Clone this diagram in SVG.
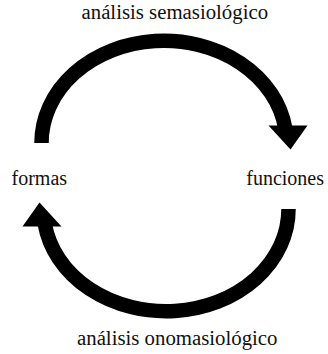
<svg xmlns="http://www.w3.org/2000/svg" width="328" height="354" viewBox="0 0 328 354">
  <style>
    text { font-family: "Liberation Serif", "Times New Roman", serif; font-size: 20px; fill: #111; }
    .label { font-size: 20.8px; }
    .arc { fill: none; stroke: #000; stroke-width: 14.5; }
    .head { fill: #000; stroke: none; }
  </style>
  <defs>
    <g id="arrow">
      <path class="arc" d="M41.5,143 A122.5,102 0 0 1 285.2,128"/>
      <polygon class="head" points="268.5,125.5 307.5,125.5 290.5,149.5"/>
    </g>
  </defs>
  <rect width="328" height="354" fill="#fff"/>
  <g id="connectors">
    <use href="#arrow"/>
    <use href="#arrow" transform="rotate(180 165 176)"/>
    <text class="label" x="81.5" y="18.5">análisis semasiológico</text>
    <text class="label" x="77" y="345">análisis onomasiológico</text>
  </g>
  <g id="formas">
    <text x="11.5" y="185">formas</text>
  </g>
  <g id="funciones">
    <text x="324" y="185" text-anchor="end">funciones</text>
  </g>
</svg>
